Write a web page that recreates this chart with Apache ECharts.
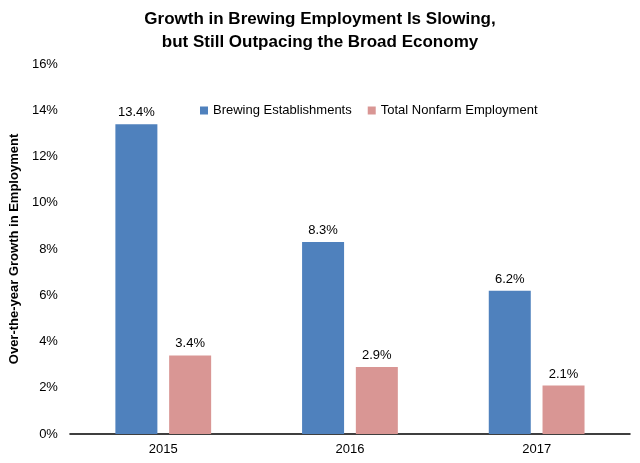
<!DOCTYPE html>
<html>
<head>
<meta charset="utf-8">
<script src="https://cdn.jsdelivr.net/npm/echarts@6/dist/echarts.min.js"></script>
<style>
html, body { margin: 0; padding: 0; background: #fff; }
#chart { width: 640px; height: 463px; }
</style>
</head>
<body>
<div id="chart"></div>
<script>
var years = ['2015', '2016', '2017'];
var brewing = [13.4, 8.3, 6.2];
var nonfarm = [3.4, 2.9, 2.1];

var font = '"Liberation Sans", Arial, sans-serif';
var chart = echarts.init(document.getElementById('chart'));
var option = {
	backgroundColor: '#fff',
	textStyle: { fontFamily: font },
	title: {
		text: 'Growth in Brewing Employment Is Slowing,\nbut Still Outpacing the Broad Economy',
		left: 'center',
		top: 3,
		textStyle: { fontSize: 17, fontWeight: 'bold', color: '#000', lineHeight: 23, fontFamily: font }
	},
	legend: {
		top: 99,
		left: 195,
		itemWidth: 8,
		itemHeight: 8,
		itemGap: 16,
		icon: 'rect',
		textStyle: { fontSize: 13, color: '#000', fontFamily: font },
		data: ['Brewing Establishments', 'Total Nonfarm Employment']
	},
	grid: {
		left: 64,
		right: 10,
		top: 64,
		bottom: 29
	},
	xAxis: {
		type: 'category',
		data: years,
		axisLine: { lineStyle: { color: '#000', width: 1.5 } },
		axisTick: { show: false },
		axisLabel: { fontSize: 13, color: '#000', margin: 9, fontFamily: font }
	},
	yAxis: {
		type: 'value',
		min: 0,
		max: 16,
		interval: 2,
		name: 'Over-the-year Growth in Employment',
		nameLocation: 'middle',
		nameGap: 45,
		nameTextStyle: { fontSize: 13, fontWeight: 'bold', color: '#000', fontFamily: font },
		axisLine: { show: false },
		axisTick: { show: false },
		splitLine: { show: false },
		axisLabel: {
			fontSize: 13,
			color: '#000',
			margin: 12,
			fontFamily: font,
			formatter: function(v) { return v + '%'; }
		}
	},
	series: [{
		name: 'Brewing Establishments',
		type: 'bar',
		data: brewing,
		barWidth: 42,
		barGap: '28%',
		itemStyle: { color: '#4F81BD' },
		label: {
			show: true,
			position: 'top',
			fontSize: 13,
			color: '#000',
			fontFamily: font,
			formatter: function(p) { return p.value.toFixed(1) + '%'; }
		}
	}, {
		name: 'Total Nonfarm Employment',
		type: 'bar',
		data: nonfarm,
		barWidth: 42,
		itemStyle: { color: '#D99694' },
		label: {
			show: true,
			position: 'top',
			fontSize: 13,
			color: '#000',
			fontFamily: font,
			formatter: function(p) { return p.value.toFixed(1) + '%'; }
		}
	}]
};
chart.setOption(option);
</script>
</body>
</html>
